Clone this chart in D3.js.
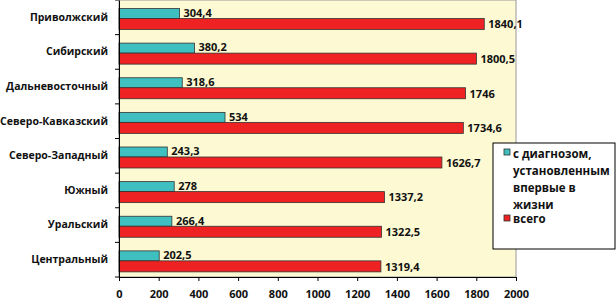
<!DOCTYPE html>
<html>
<head>
<meta charset="utf-8">
<script src="https://cdn.jsdelivr.net/npm/d3@7"></script>
<style>
  body { margin: 0; background: #fff; }
  text { font-family: "Open Sans", sans-serif; font-weight: bold; fill: #111; }
</style>
</head>
<body>
<div id="chart"></div>
<script>
const regions = ["Приволжский", "Сибирский", "Дальневосточный", "Северо-Кавказский",
                 "Северо-Западный", "Южный", "Уральский", "Центральный"];
const firstTime = [304.4, 380.2, 318.6, 534, 243.3, 278, 266.4, 202.5];
const total = [1840.1, 1800.5, 1746, 1734.6, 1626.7, 1337.2, 1322.5, 1319.4];
const xTicks = [0, 200, 400, 600, 800, 1000, 1200, 1400, 1600, 1800, 2000];
const seriesNames = ["с диагнозом, установленным впервые в жизни", "всего"];

const width = 616, height = 301;
const margin = {top: 0, right: 100, bottom: 24, left: 119};
const w = 516 - margin.left, h = 277 - margin.top;

const fmt = v => String(v).replace(".", ",");

const svg = d3.select("#chart").append("svg")
    .attr("width", width).attr("height", height);

const g = svg.append("g").attr("transform", `translate(${margin.left},${margin.top})`);

const x = d3.scaleLinear().domain([0, 2000]).range([0, w]);
const y = d3.scaleBand().domain(regions).range([0, h]);

// plot background
g.append("rect")
    .attr("x", 0).attr("y", 0).attr("width", w).attr("height", h)
    .attr("fill", "#fdf9d2").attr("stroke", "#999").attr("stroke-width", 1);

const barH = 10;
const colors = ["#3fbfc0", "#ee2222"];

// cyan bars
g.selectAll(".b1").data(regions).enter().append("rect")
    .attr("x", 0)
    .attr("y", d => y(d) + 8.5)
    .attr("width", (d, i) => x(firstTime[i]))
    .attr("height", barH)
    .attr("fill", colors[0]).attr("stroke", "#333").attr("stroke-width", 0.8);

// red bars
g.selectAll(".b2").data(regions).enter().append("rect")
    .attr("x", 0)
    .attr("y", d => y(d) + 18.5)
    .attr("width", (d, i) => x(total[i]))
    .attr("height", barH + 1)
    .attr("fill", colors[1]).attr("stroke", "#333").attr("stroke-width", 0.8);

// value labels
g.selectAll(".l1").data(regions).enter().append("text")
    .attr("x", (d, i) => x(firstTime[i]) + 4)
    .attr("y", d => y(d) + 13)
    .attr("dy", "0.35em")
    .style("font-size", "11px")
    .text((d, i) => fmt(firstTime[i]));

g.selectAll(".l2").data(regions).enter().append("text")
    .attr("x", (d, i) => x(total[i]) + 4)
    .attr("y", d => y(d) + 24.5)
    .attr("dy", "0.35em")
    .style("font-size", "11px")
    .text((d, i) => fmt(total[i]));

// x axis
const xAxis = g.append("g")
    .attr("transform", `translate(0,${h})`)
    .call(d3.axisBottom(x).tickValues(xTicks).tickFormat(d3.format("d")).tickSize(4).tickPadding(9));
xAxis.select(".domain").attr("stroke", "#000");
xAxis.selectAll("text").style("font-size", "11px").style("font-family", "Open Sans").style("font-weight", "bold");

// y axis
const yAxis = g.append("g")
    .call(d3.axisLeft(y).tickSize(0).tickPadding(11));
yAxis.select(".domain").attr("stroke", "#000");
yAxis.selectAll("text").style("font-size", "10.5px").style("font-family", "Open Sans").style("font-weight", "bold");

// category separators on left axis
yAxis.selectAll(".sep").data(d3.range(regions.length + 1)).enter().append("line")
    .attr("x1", -4).attr("x2", 0)
    .attr("y1", i => i * y.step()).attr("y2", i => i * y.step())
    .attr("stroke", "#000");

// legend
const lg = svg.append("g").attr("transform", "translate(493,143)");
lg.append("rect").attr("width", 122).attr("height", 106)
    .attr("fill", "#fff").attr("stroke", "#000");

const legendLines = ["с диагнозом,", "установленным", "впервые в", "жизни"];
lg.append("rect").attr("x", 11).attr("y", 6).attr("width", 6).attr("height", 6)
    .attr("fill", colors[0]).attr("stroke", "#333").attr("stroke-width", 0.8);
lg.selectAll(".lt").data(legendLines).enter().append("text")
    .attr("x", 20)
    .attr("y", (d, i) => 11 + i * 17)
    .attr("dy", "0.35em")
    .style("font-size", "11.5px")
    .text(d => d);

lg.append("rect").attr("x", 11).attr("y", 72).attr("width", 6).attr("height", 6)
    .attr("fill", colors[1]).attr("stroke", "#333").attr("stroke-width", 0.8);
lg.append("text")
    .attr("x", 20).attr("y", 76).attr("dy", "0.35em")
    .style("font-size", "11.5px")
    .text(seriesNames[1]);
</script>
</body>
</html>
